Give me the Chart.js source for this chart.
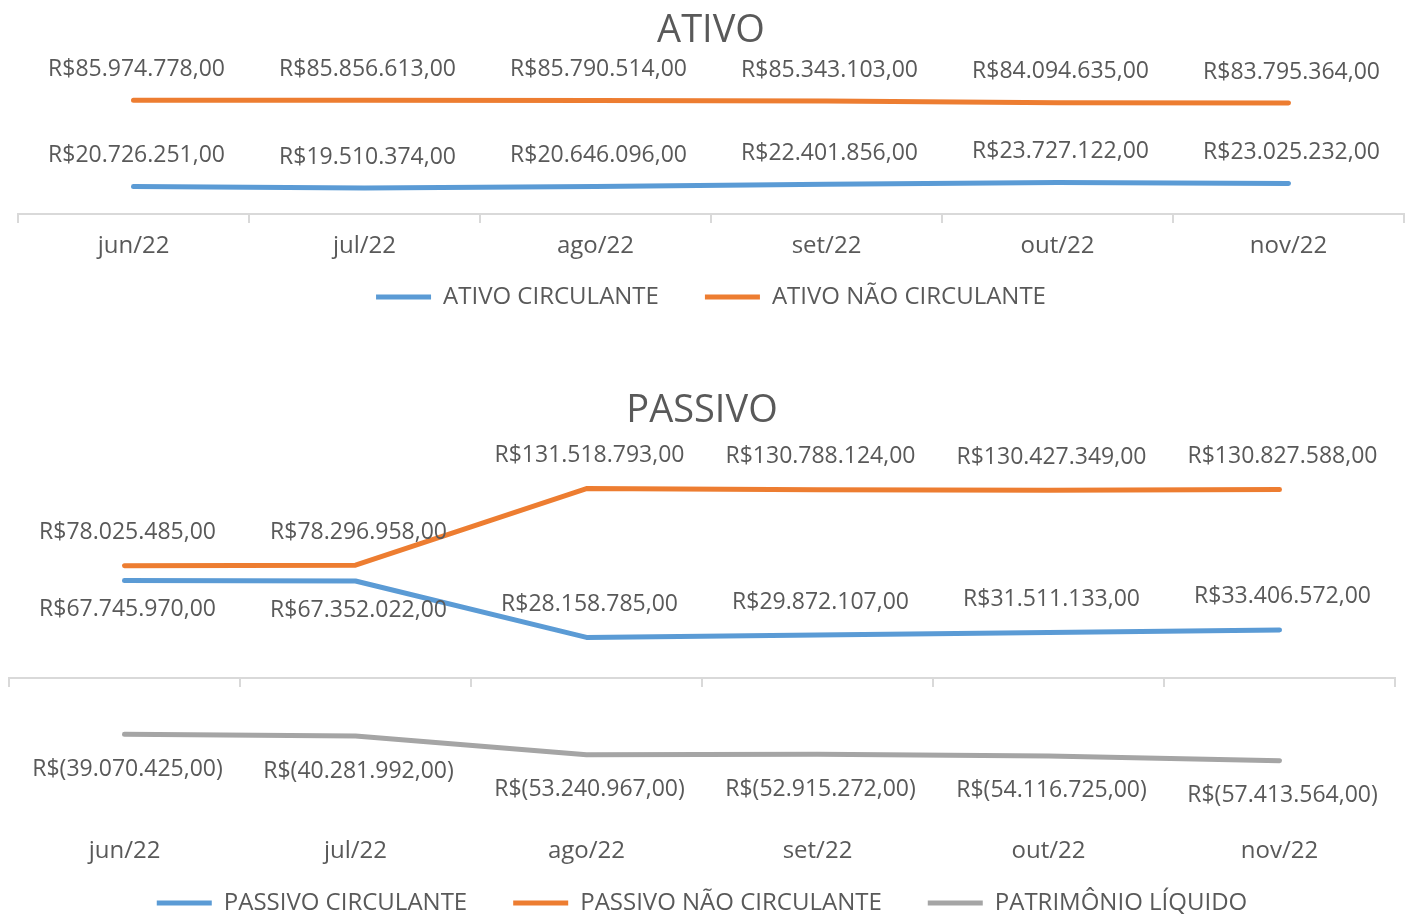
<!DOCTYPE html>
<html>
<head>
<meta charset="utf-8">
<script src="https://cdn.jsdelivr.net/npm/chart.js@4"></script>
<style>
  body { margin: 0; overflow: hidden; background: #fff; width: 1408px; height: 916px; }
  .box { position: absolute; left: 0; width: 1408px; }
</style>
</head>
<body>
<div class="box" style="top:0;height:319px"><canvas id="ativoChart"></canvas></div>
<div class="box" style="top:360px;height:565px"><canvas id="passivoChart"></canvas></div>
<script>
// dados
const meses = ['jun/22', 'jul/22', 'ago/22', 'set/22', 'out/22', 'nov/22'];
const ativoCirculante = [20726251, 19510374, 20646096, 22401856, 23727122, 23025232];
const ativoNaoCirculante = [85974778, 85856613, 85790514, 85343103, 84094635, 83795364];
const passivoCirculante = [67745970, 67352022, 28158785, 29872107, 31511133, 33406572];
const passivoNaoCirculante = [78025485, 78296958, 131518793, 130788124, 130427349, 130827588];
const patrimonioLiquido = [-39070425, -40281992, -53240967, -52915272, -54116725, -57413564];

const FONT = '"Open Sans", "DejaVu Sans", sans-serif';
const GRAY = '#595959';
const BLUE = '#5b9bd5';
const ORANGE = '#ed7d31';
const SILVER = '#a5a5a5';

// R$85.974.778,00 / R$(39.070.425,00)
function reais(v) {
  const s = Math.abs(v).toFixed(0).replace(/\B(?=(\d{3})+(?!\d))/g, '.') + ',00';
  return v < 0 ? 'R$(' + s + ')' : 'R$' + s;
}

// rótulos de valor em cada ponto
const valueLabels = {
  id: 'valueLabels',
  afterDatasetsDraw(chart) {
    const ctx = chart.ctx;
    ctx.save();
    ctx.font = '23px ' + FONT;
    ctx.fillStyle = GRAY;
    ctx.textAlign = 'center';
    ctx.textBaseline = 'middle';
    chart.data.datasets.forEach((ds, i) => {
      const meta = chart.getDatasetMeta(i);
      meta.data.forEach((pt, j) => {
        const pos = ds.labelPos ? ds.labelPos[j] : 'above';
        const dy = pos === 'above' ? -ds.labelUp : ds.labelDown;
        ctx.fillText(reais(ds.data[j]), pt.x + 3, pt.y + dy);
      });
    });
    ctx.restore();
  }
};

function lineSet(label, data, color, extra) {
  return Object.assign({
    label: label,
    data: data,
    borderColor: color,
    backgroundColor: color,
    borderWidth: 5,
    borderCapStyle: 'round',
    borderJoinStyle: 'round',
    pointRadius: 0,
    tension: 0,
    labelUp: 32,
    labelDown: 30
  }, extra || {});
}

function baseOptions(title, titlePad, yMin, yMax, padLeft, padRight, tickPad) {
  return {
    responsive: true,
    maintainAspectRatio: false,
    animation: false,
    layout: { padding: { left: padLeft, right: padRight, top: 0, bottom: 0 } },
    plugins: {
      title: {
        display: true,
        text: title,
        color: GRAY,
        font: { family: FONT, size: 38, weight: 'normal' },
        padding: titlePad
      },
      legend: {
        position: 'bottom',
        labels: {
          color: GRAY,
          font: { family: FONT, size: 24 },
          usePointStyle: true,
          pointStyle: 'line',
          pointStyleWidth: 55,
          padding: 46
        }
      },
      tooltip: { enabled: false }
    },
    scales: {
      x: {
        type: 'category',
        position: { y: 0 },
        offset: true,
        grid: { offset: true, drawOnChartArea: false, drawTicks: true, tickLength: 8, color: '#d9d9d9', lineWidth: 2 },
        border: { color: '#d9d9d9', width: 2 },
        ticks: { color: GRAY, font: { family: FONT, size: 24 }, padding: tickPad, maxRotation: 0 },
        // o padding dos rótulos não deve estreitar a área do gráfico
        afterFit(scale) {
          scale.paddingLeft = 0;
          scale.paddingRight = 0;
        }
      },
      y: { display: false, min: yMin, max: yMax }
    }
  };
}

new Chart(document.getElementById('ativoChart'), {
  type: 'line',
  data: {
    labels: meses,
    datasets: [
      lineSet('ATIVO CIRCULANTE', ativoCirculante, BLUE, { labelUp: 31 }),
      lineSet('ATIVO NÃO CIRCULANTE', ativoNaoCirculante, ORANGE, { labelUp: 31 })
    ]
  },
  options: baseOptions('ATIVO', { top: 8, bottom: 28 }, -19000000, 100000000, 18, 4, 10),
  plugins: [valueLabels]
});

new Chart(document.getElementById('passivoChart'), {
  type: 'line',
  data: {
    labels: meses,
    datasets: [
      lineSet('PASSIVO CIRCULANTE', passivoCirculante, BLUE, {
        labelPos: ['below', 'below', 'above', 'above', 'above', 'above'], labelUp: 33, labelDown: 29
      }),
      lineSet('PASSIVO NÃO CIRCULANTE', passivoNaoCirculante, ORANGE, { labelUp: 33 }),
      lineSet('PATRIMÔNIO LÍQUIDO', patrimonioLiquido, SILVER, {
        labelPos: ['below', 'below', 'below', 'below', 'below', 'below'], labelDown: 35
      })
    ]
  },
  options: baseOptions('PASSIVO', { top: 28, bottom: 14 }, -116000000, 160000000, 9, 13, 151),
  plugins: [valueLabels]
});
</script>
</body>
</html>
